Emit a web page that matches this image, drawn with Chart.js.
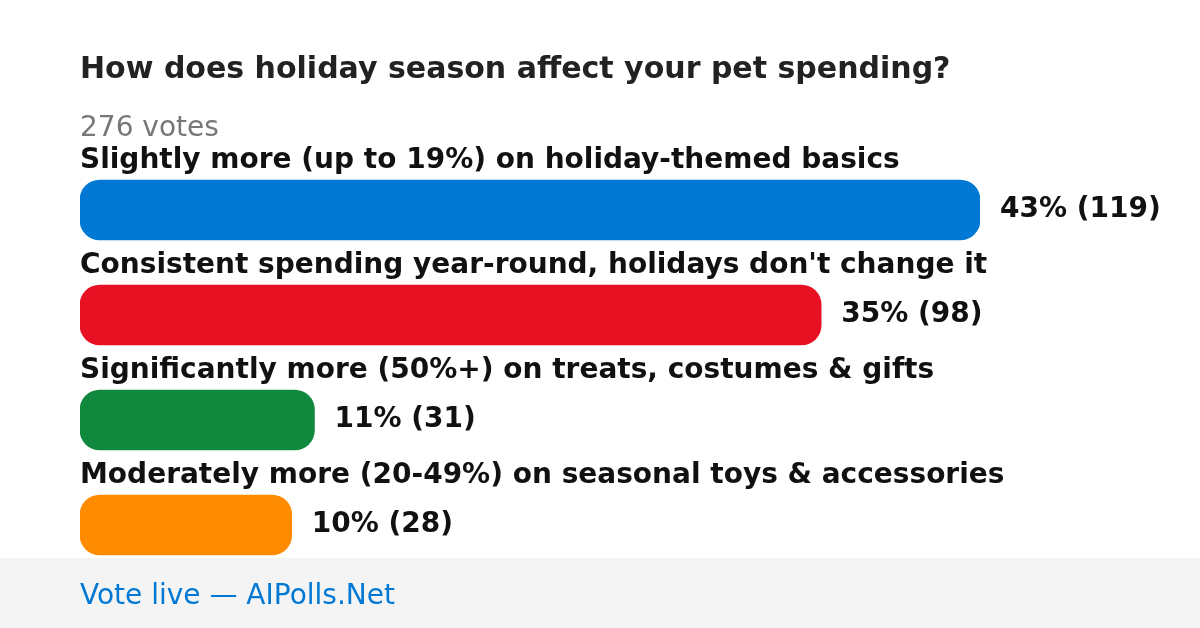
<!DOCTYPE html>
<html>
<head>
<meta charset="utf-8">
<script src="https://cdn.jsdelivr.net/npm/chart.js@4/dist/chart.umd.min.js"></script>
<style>
  html, body { margin: 0; padding: 0; background: #ffffff; }
  #wrap { position: relative; width: 1200px; height: 628px; }
  canvas { display: block; }
</style>
</head>
<body>
<div id="wrap"><canvas id="c" width="1200" height="628"></canvas></div>
<script>
const titleText = "How does holiday season affect your pet spending?";
const subtitleText = "276 votes";
const footerText = "Vote live \u2014 AIPolls.Net";
const categories = [
  "Slightly more (up to 19%) on holiday-themed basics",
  "Consistent spending year-round, holidays don't change it",
  "Significantly more (50%+) on treats, costumes & gifts",
  "Moderately more (20-49%) on seasonal toys & accessories"
];
const votes = [119, 98, 31, 28];
const percents = [43, 35, 11, 10];
const barColors = ["#0078d4", "#e81123", "#10893e", "#ff8c00"];

const FONT = "'DejaVu Sans', 'Liberation Sans', sans-serif";

const textPlugin = {
  id: 'pollText',
  beforeDraw(chart) {
    const ctx = chart.ctx;
    ctx.save();
    ctx.fillStyle = '#ffffff';
    ctx.fillRect(0, 0, chart.width, chart.height);
    ctx.fillStyle = '#f4f4f4';
    ctx.fillRect(0, 558, chart.width, chart.height - 558);
    ctx.textAlign = 'left';
    ctx.textBaseline = 'alphabetic';
    ctx.fillStyle = '#222222';
    ctx.font = 'bold 30px ' + FONT;
    ctx.fillText(titleText, 80, 78);
    ctx.fillStyle = '#777777';
    ctx.font = '28px ' + FONT;
    ctx.fillText(subtitleText, 80, 136);
    ctx.fillStyle = '#0078d4';
    ctx.font = '28px ' + FONT;
    ctx.fillText(footerText, 80, 604);
    ctx.restore();
  },
  afterDatasetsDraw(chart) {
    const ctx = chart.ctx;
    const meta = chart.getDatasetMeta(0);
    ctx.save();
    meta.data.forEach((bar, i) => {
      const top = bar.y - bar.height / 2;
      ctx.fillStyle = '#111111';
      ctx.textAlign = 'left';
      ctx.textBaseline = 'alphabetic';
      ctx.font = 'bold 28px ' + FONT;
      ctx.fillText(categories[i], 80, top - 12);
      ctx.textBaseline = 'middle';
      ctx.font = 'bold 28px ' + FONT;
      ctx.fillText(percents[i] + '% (' + votes[i] + ')', bar.x + 20, bar.y);
    });
    ctx.restore();
  }
};

new Chart(document.getElementById('c'), {
  type: 'bar',
  data: {
    labels: categories,
    datasets: [{
      data: votes,
      backgroundColor: barColors,
      borderWidth: 0,
      borderRadius: 20,
      borderSkipped: false,
      barThickness: 60
    }]
  },
  options: {
    indexAxis: 'y',
    responsive: false,
    animation: false,
    layout: { padding: { left: 80, right: 220, top: 157.5, bottom: 50.5 } },
    scales: {
      x: { display: false, min: 0, max: 119 },
      y: { display: false }
    },
    plugins: {
      legend: { display: false },
      tooltip: { enabled: false },
      title: { display: false }
    }
  },
  plugins: [textPlugin]
});
</script>
</body>
</html>
